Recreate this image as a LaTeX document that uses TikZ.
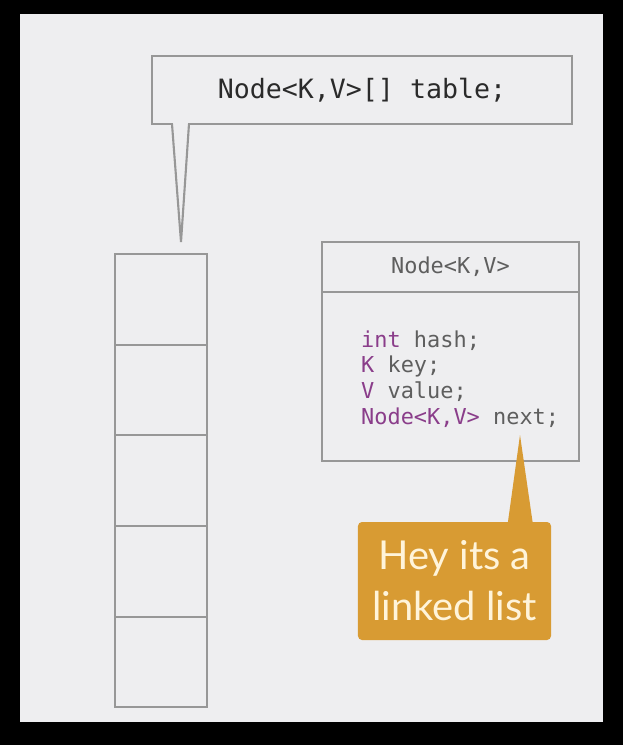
\documentclass[tikz,border=0pt]{standalone}
\usepackage{fontspec}
\usepackage{tikz}
\usepackage{xcolor}
\usetikzlibrary{arrows.meta,positioning,calc}
\setmonofont{DejaVu Sans Mono}
\newfontfamily\calloutfont{Lato}
\definecolor{SlideFrame}{HTML}{000000}
\definecolor{SlideGray}{HTML}{EEEEF0}
\definecolor{BoxLine}{HTML}{979797}
\definecolor{CodeDark}{HTML}{2A2A2A}
\definecolor{CodeGray}{HTML}{5E5E5E}
\definecolor{CodePurple}{HTML}{8A3D8A}
\definecolor{NoteGold}{HTML}{D89B33}
\definecolor{NoteText}{HTML}{FFF4DA}
\tikzset{
    % Base box style
    basebox/.style={
        draw=BoxLine,
        fill=SlideGray,
        line width=1.8pt,
        outer sep=0pt,
        inner sep=0pt,
        align=center
    },
    % Declaration callout
    declbox/.style={
        basebox,
        minimum width=12.6cm,
        minimum height=2.04cm,
        text=CodeDark,
        font=\ttfamily\fontsize{22.7}{26}\selectfont
    },
    % Callout tail line
    tailline/.style={
        draw=BoxLine,
        line width=1.8pt,
        line join=miter
    },
    % Array slot
    slotbox/.style={
        basebox,
        minimum width=2.76cm,
        minimum height=2.72cm
    },
    % Class header
    headbox/.style={
        basebox,
        minimum width=7.71cm,
        minimum height=1.5cm,
        text=CodeGray,
        font=\ttfamily\fontsize{18.7}{21.3}\selectfont
    },
    % Class body
    bodybox/.style={
        basebox,
        minimum width=7.71cm,
        minimum height=5.07cm
    },
    % Field lines
    fieldtext/.style={
        align=left,
        inner sep=0pt,
        text=CodeGray,
        font=\ttfamily\fontsize{18.7}{22}\selectfont
    },
    % Gold note
    notebox/.style={
        fill=NoteGold,
        rounded corners=0.12cm,
        minimum width=5.79cm,
        minimum height=3.54cm,
        align=center,
        text=NoteText,
        font=\calloutfont\fontsize{34}{43.5}\selectfont
    }
}
\newcommand{\kw}[1]{\textcolor{CodePurple}{#1}}

\begin{document}
\begin{tikzpicture}[x=0.03cm, y=-0.03cm]
        % Slide
        \fill[SlideFrame] (0,0) rectangle (623,745);
        \fill[SlideGray] (20,14) rectangle (603,722);

        % Table declaration
        \node[declbox] (decl) at (362,90) {Node<K,V>[] table;};
        \coordinate (decltip) at (181,242);
        \fill[SlideGray] ($(decl.south west)+(21,-1.6)$) -- (decltip) -- ($(decl.south west)+(36,-1.6)$) -- cycle;
        \draw[tailline] ($(decl.south west)+(20,0)$) -- (decltip) -- ($(decl.south west)+(37,0)$);

        % Array slots
        \node[slotbox] (s1) at (161,299.3) {};
        \node[slotbox, below=0pt of s1] (s2) {};
        \node[slotbox, below=0pt of s2] (s3) {};
        \node[slotbox, below=0pt of s3] (s4) {};
        \node[slotbox, below=0pt of s4] (s5) {};

        % Node class
        \node[headbox] (head) at (450.5,267) {Node<K,V>};
        \node[bodybox, below=0pt of head] (body) {};
        \node[fieldtext, anchor=west] (fields) at (361,379)
            {\kw{int} hash;\\\kw{K} key;\\\kw{V} value;\\\kw{Node<K,V>} next;};

        % Linked list note
        \node[notebox] (note) at (454.5,581) {Hey its a\\linked list};
        \coordinate (notetip) at (520,435);
        \fill[NoteGold] ($(note.north west)+(150,1.5)$) -- (notetip) -- ($(note.north west)+(175,1.5)$) -- cycle;
    \end{tikzpicture}
\end{document}
